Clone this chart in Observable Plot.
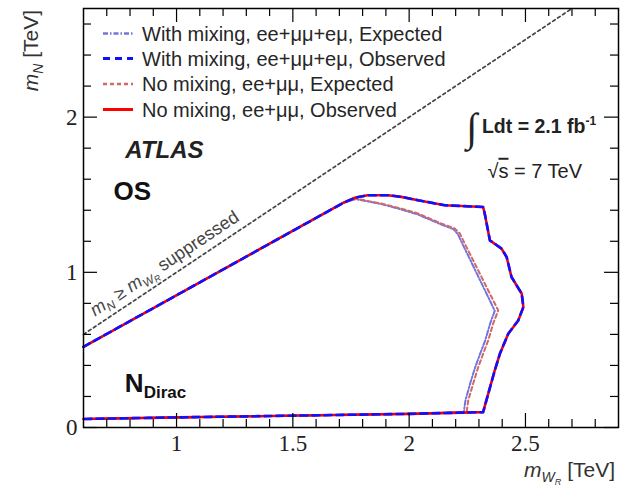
<!DOCTYPE html>
<html><head><meta charset="utf-8">
<script src="https://cdn.jsdelivr.net/npm/d3@7"></script>
<script src="https://cdn.jsdelivr.net/npm/@observablehq/plot@0.6"></script>
<style>body{margin:0;background:#fff}#chart{width:620px;height:493px}</style>
</head><body><div id="chart"></div>
<script>
// ---- data (TeV) ----
const xTickLabels = [1, 1.5, 2, 2.5];
const yTickLabels = [0, 1, 2];
const legendLabels = [
  "With mixing, ee+\u03bc\u03bc+e\u03bc, Expected",
  "With mixing, ee+\u03bc\u03bc+e\u03bc, Observed",
  "No mixing, ee+\u03bc\u03bc, Expected",
  "No mixing, ee+\u03bc\u03bc, Observed"
];
const kinematicLimit = [[0.6, 0.6], [2.7, 2.7]];
const obsNoMix = [[0.60,0.52],[1.72,1.45],[1.77,1.482],[1.822,1.497],[1.909,1.497],[1.966,1.486],[2.038,1.465],[2.153,1.432],[2.318,1.421],[2.325,1.378],[2.347,1.206],[2.397,1.153],[2.419,1.099],[2.44,0.97],[2.484,0.862],[2.491,0.776],[2.469,0.69],[2.426,0.604],[2.39,0.475],[2.368,0.368],[2.318,0.099],[2.0,0.088],[1.535,0.077],[1.0,0.065],[0.60,0.055]];
const obsMix = [[0.60,0.52],[1.72,1.45],[1.77,1.482],[1.822,1.497],[1.909,1.497],[1.966,1.486],[2.038,1.465],[2.153,1.432],[2.318,1.421],[2.325,1.378],[2.347,1.206],[2.397,1.153],[2.419,1.099],[2.44,0.97],[2.484,0.862],[2.491,0.776],[2.469,0.69],[2.426,0.604],[2.39,0.475],[2.368,0.368],[2.318,0.099],[2.0,0.088],[1.535,0.077],[1.0,0.065],[0.60,0.055]];
const expNoMix = [[0.60,0.52],[1.72,1.45],[1.77,1.475],[1.88,1.443],[1.966,1.411],[2.038,1.379],[2.139,1.314],[2.196,1.282],[2.218,1.25],[2.239,1.185],[2.268,1.099],[2.311,0.97],[2.347,0.862],[2.383,0.755],[2.361,0.669],[2.34,0.561],[2.318,0.475],[2.297,0.389],[2.275,0.282],[2.254,0.174],[2.247,0.099],[2.0,0.088],[1.535,0.077],[1.0,0.065],[0.60,0.055]];
const expMix = [[0.60,0.52],[1.72,1.45],[1.77,1.472],[1.88,1.44],[1.966,1.405],[2.038,1.372],[2.135,1.31],[2.19,1.278],[2.21,1.245],[2.23,1.18],[2.258,1.095],[2.298,0.97],[2.333,0.862],[2.368,0.752],[2.348,0.669],[2.327,0.561],[2.305,0.475],[2.284,0.389],[2.262,0.282],[2.242,0.174],[2.235,0.099],[2.0,0.088],[1.535,0.077],[1.0,0.065],[0.60,0.055]];

// ---- layout ----
const W = 620, H = 493, mL = 83, mR = 2, mT = 8, mB = 66;
const xDom = [0.6, 2.9], yDom = [0, 2.7];
const kx = (xDom[1] - xDom[0]) / (W - mL - mR);
const ky = (yDom[1] - yDom[0]) / (H - mT - mB);
const SANS = "Liberation Sans, Arial, Helvetica, sans-serif";
const SERIF = "Liberation Serif, Times New Roman, serif";
const xMajor = [1, 1.5, 2, 2.5];
const xMinor = d3.range(7, 29).map(i => i / 10).filter(v => !xMajor.includes(v));
const yMajor = [0, 1, 2];
const yMinor = d3.range(1, 14).map(i => i / 5).filter(v => !yMajor.includes(v));
const MAJ = 14, MIN = 8;

const styles = {
  expMix:   {stroke: "#7474dc", strokeWidth: 2, strokeDasharray: "5,2,1.5,2"},
  expNoMix: {stroke: "#cf6a6a", strokeWidth: 2, strokeDasharray: "4,3"},
  obsNoMix: {stroke: "#ff0000", strokeWidth: 2.6},
  obsMix:   {stroke: "#1010ff", strokeWidth: 2.6, strokeDasharray: "7,5"}
};

function xTicks(vals, len) {
  return [
    Plot.ruleX(vals, {x: d => d, y1: yDom[0], y2: yDom[0] + len * ky, stroke: "black", strokeWidth: 1.2}),
    Plot.ruleX(vals, {x: d => d, y1: yDom[1], y2: yDom[1] - len * ky, stroke: "black", strokeWidth: 1.2})
  ];
}
function yTicks(vals, len) {
  return [
    Plot.ruleY(vals, {y: d => d, x1: xDom[0], x2: xDom[0] + len * kx, stroke: "black", strokeWidth: 1.2}),
    Plot.ruleY(vals, {y: d => d, x1: xDom[1], x2: xDom[1] - len * kx, stroke: "black", strokeWidth: 1.2})
  ];
}
const P = {x: d => d[0], y: d => d[1]};

const plot = Plot.plot({
  width: W, height: H,
  marginLeft: mL, marginRight: mR, marginTop: mT, marginBottom: mB,
  x: {domain: xDom, axis: null},
  y: {domain: yDom, axis: null},
  style: {background: "white", fontFamily: SANS},
  marks: [
    Plot.line(kinematicLimit, {...P, stroke: "#444", strokeWidth: 1.7, strokeDasharray: "3,3"}),
    Plot.line(expMix, {...P, ...styles.expMix}),
    Plot.line(expNoMix, {...P, ...styles.expNoMix}),
    Plot.line(obsNoMix, {...P, ...styles.obsNoMix}),
    Plot.line(obsMix, {...P, ...styles.obsMix}),
    ...xTicks(xMajor, MAJ), ...xTicks(xMinor, MIN),
    ...yTicks(yMajor, MAJ), ...yTicks(yMinor, MIN),
    Plot.frame({stroke: "black", strokeWidth: 1.5}),
    Plot.text(xTickLabels, {x: d => d, y: yDom[0], dy: 7, lineAnchor: "top", text: d => String(d), fontFamily: SERIF, fontSize: 23, fill: "#222"}),
    Plot.text(yTickLabels, {x: xDom[0], y: d => d, dx: -6, textAnchor: "end", text: d => String(d), fontFamily: SERIF, fontSize: 23, fill: "#222"}),
    Plot.text(["ATLAS"], {x: 0.78, y: 1.735, lineAnchor: "bottom", textAnchor: "start", fontFamily: SANS, fontSize: 24, fontWeight: "bold", fontStyle: "italic", fill: "#222"}),
    Plot.text(["OS"], {x: 0.729, y: 1.465, lineAnchor: "bottom", textAnchor: "start", fontFamily: SANS, fontSize: 26, fontWeight: "bold", fill: "#111"})
  ]
});
document.getElementById("chart").appendChild(plot);

const svg = d3.select(plot);
const sx = plot.scale("x"), sy = plot.scale("y");
const X = v => sx.apply(v), Y = v => sy.apply(v);
const T = () => svg.append("text").attr("text-anchor", "start").attr("font-family", SANS);

// y axis title
const yl = T().attr("font-size", 21).attr("fill", "#333")
  .attr("text-anchor", "end").attr("transform", `translate(38,${mT + 2}) rotate(-90)`);
yl.append("tspan").attr("font-style", "italic").text("m");
yl.append("tspan").attr("font-style", "italic").attr("font-size", 14).attr("dy", 5).text("N");
yl.append("tspan").attr("dy", -5).text(" [TeV]");

// x axis title
const xl = T().attr("font-size", 21).attr("fill", "#333")
  .attr("text-anchor", "end").attr("x", W - 5).attr("y", H - 16);
xl.append("tspan").attr("font-style", "italic").text("m");
xl.append("tspan").attr("font-style", "italic").attr("font-size", 14).attr("dy", 5).text("W");
xl.append("tspan").attr("font-style", "italic").attr("font-size", 9).attr("dy", 3).text("R");
xl.append("tspan").attr("dy", -8).text(" [TeV]");

// diagonal annotation
const ang = Math.atan2(Y(0) - Y(1), X(1) - X(0)) * 180 / Math.PI;
const dg = T().attr("font-size", 18).attr("fill", "#444")
  .attr("transform", `translate(${X(0.652)},${Y(0.652) - 9}) rotate(${-ang})`);
dg.append("tspan").attr("font-style", "italic").text("m");
dg.append("tspan").attr("font-style", "italic").attr("font-size", 12).attr("dy", 4).text("N");
dg.append("tspan").attr("dy", -4).text(" \u2265 ");
dg.append("tspan").attr("font-style", "italic").text("m");
dg.append("tspan").attr("font-style", "italic").attr("font-size", 12).attr("dy", 4).text("W");
dg.append("tspan").attr("font-style", "italic").attr("font-size", 9).attr("dy", 2).text("R");
dg.append("tspan").attr("dy", -6).text(" suppressed");

// N_Dirac
const nd = T().attr("font-weight", "bold").attr("fill", "#111")
  .attr("x", X(0.78)).attr("y", Y(0.226));
nd.append("tspan").attr("font-size", 26).text("N");
nd.append("tspan").attr("font-size", 17).attr("dy", 6).text("Dirac");

// luminosity
T().attr("font-family", SERIF).attr("font-size", 40).attr("fill", "#222")
  .attr("x", X(2.248)).attr("y", Y(1.84)).text("\u222b");
const lum = T().attr("font-weight", "bold").attr("font-size", 19.5).attr("fill", "#222")
  .attr("x", X(2.315)).attr("y", Y(1.897));
lum.append("tspan").text("Ldt = 2.1 fb");
lum.append("tspan").attr("font-size", 12).attr("dy", -8).text("-1");
const rs = T().attr("font-size", 20).attr("fill", "#222")
  .attr("x", X(2.339)).attr("y", Y(1.606));
rs.append("tspan").text("\u221a");
rs.append("tspan").attr("text-decoration", "overline").text("s");
rs.append("tspan").text(" = 7 TeV");

// legend
const legendStyles = [styles.expMix, styles.obsMix, styles.expNoMix, styles.obsNoMix];
const rowY = [33.5, 58.5, 84, 109.5];
legendLabels.forEach((lab, i) => {
  const st = legendStyles[i];
  svg.append("line").attr("x1", 103).attr("x2", 133).attr("y1", rowY[i]).attr("y2", rowY[i])
    .attr("stroke", st.stroke).attr("stroke-width", i % 2 ? 3 : 2.4)
    .attr("stroke-dasharray", st.strokeDasharray || null);
  T().attr("x", 142).attr("y", rowY[i] + 7)
    .attr("font-size", 20).attr("fill", "#262626").text(lab);
});
</script>
</body></html>
